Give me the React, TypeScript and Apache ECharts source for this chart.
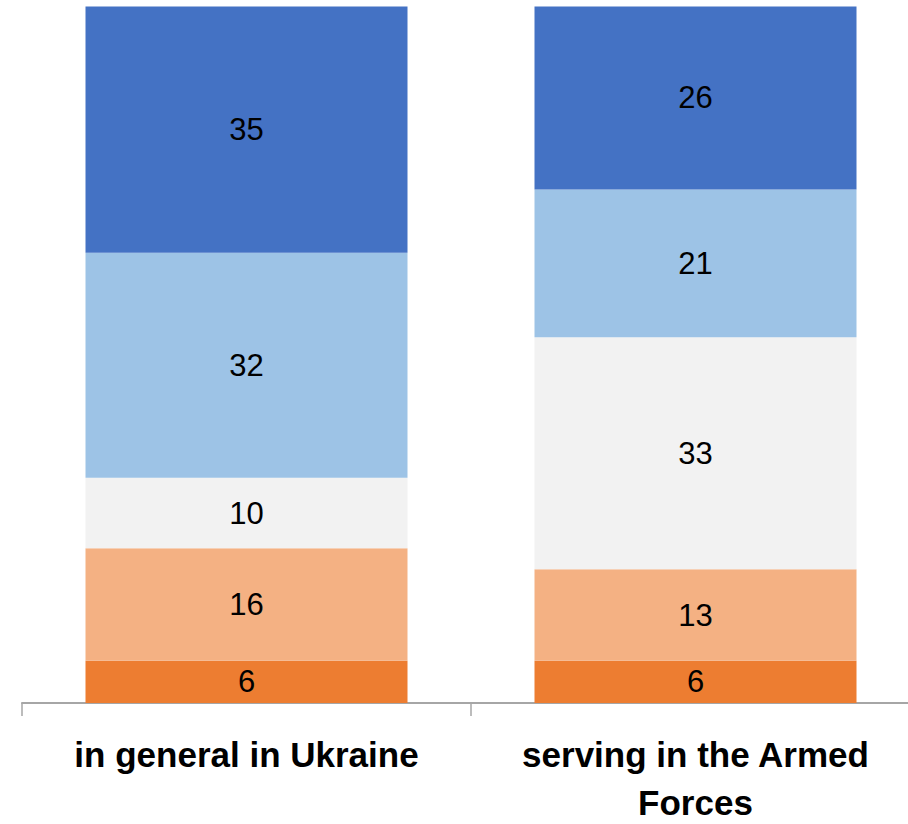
import React, { useEffect, useRef } from "react";
import * as echarts from "echarts";

const categories = ["in general in Ukraine", "serving in the Armed\nForces"];
const seriesNames = ["s1", "s2", "s3", "s4", "s5"];
const s1 = [6, 6];
const s2 = [16, 13];
const s3 = [10, 33];
const s4 = [32, 21];
const s5 = [35, 26];
const colors = ["#ED7D31", "#F4B183", "#F2F2F2", "#9DC3E6", "#4472C4"];

const font = "'Liberation Sans', Arial, sans-serif";

export default function App() {
  const ref = useRef<HTMLDivElement>(null);
  useEffect(() => {
    if (!ref.current) return;
    const chart = echarts.init(ref.current, undefined, { renderer: "svg" });
    const data = [s1, s2, s3, s4, s5];
    chart.setOption({
      animation: false,
      grid: {
        left: 22,
        right: -12,
        top: 6.5,
        bottom: 121,
        containLabel: false,
        outerBoundsMode: "none",
      },
      xAxis: {
        type: "category",
        data: categories,
        axisLine: { show: true, lineStyle: { color: "#A6A6A6", width: 2 } },
        axisTick: { show: true, length: 13, lineStyle: { color: "#A6A6A6", width: 1.5 } },
        axisLabel: {
          margin: 27,
          fontSize: 35,
          fontWeight: "bold",
          fontFamily: font,
          color: "#000",
          lineHeight: 48,
          interval: 0,
        },
      },
      yAxis: { type: "value", min: 0, max: 99, show: false, splitLine: { show: false } },
      series: data.map((d, i) => ({
        name: seriesNames[i],
        type: "bar",
        stack: "total",
        data: d,
        barWidth: 322,
        itemStyle: { color: colors[i] },
        label: {
          show: true,
          position: "inside",
          color: "#000",
          fontSize: 31,
          fontFamily: font,
        },
      })),
    });
    return () => chart.dispose();
  }, []);
  return <div ref={ref} style={{ width: 908, height: 824, position: "absolute", left: 0, top: 0 }} />;
}
